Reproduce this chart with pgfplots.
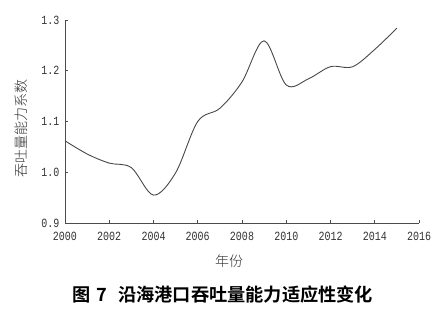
\documentclass[border=0pt]{standalone}
\usepackage{fontspec}
\setmainfont{Liberation Serif}
\newfontfamily\tickfont[FakeStretch=0.8]{Liberation Mono}
\newfontfamily\cjklight{Noto Sans CJK SC Light}
\newfontfamily\cjkbold{Noto Sans CJK SC Bold}
\usepackage{pgfplots}
\pgfplotsset{compat=1.18}
\definecolor{linec}{HTML}{484848}
\begin{document}
\begin{tikzpicture}
\path[use as bounding box] (-65pt,-92pt) rectangle (378pt,223pt);
\begin{axis}[
  at={(0,0)}, anchor=south west,
  scale only axis, width=354pt, height=203pt,
  axis lines=left,
  axis line style={-, draw=black!70, line width=0.8pt},
  xmin=2000, xmax=2016, ymin=0.9, ymax=1.3,
  xtick={2000,2002,...,2016},
  ytick={0.9,1.0,1.1,1.2,1.3},
  tick align=inside,
  major tick length=3pt,
  tick style={draw=black!70, line width=0.6pt},
  /pgf/number format/assume math mode=true,
  xticklabel style={font=\tickfont\fontsize{12.5}{12.5}\selectfont, text=black!80, yshift=-6pt},
  yticklabel style={font=\tickfont\fontsize{12.5}{12.5}\selectfont, text=black!80, xshift=-2pt},
  x tick label style={/pgf/number format/1000 sep={}},
  yticklabel={\pgfmathprintnumber[fixed,fixed zerofill,precision=1]{\tick}},
  clip=false,
]
\addplot[linec, line width=0.9pt, smooth, tension=0.55] coordinates {
(2000,1.062) (2001,1.036) (2002,1.018) (2003,1.009) (2004,0.955) (2005,0.999)
(2006,1.100) (2007,1.126) (2008,1.178) (2009,1.259) (2010,1.172) (2011,1.184)
(2012,1.208) (2013,1.208) (2014,1.242) (2015,1.284)
};
\end{axis}
\node[font=\cjklight\fontsize{14}{14}\selectfont, text=black!80] at (164pt,-38pt) {年份};
\node[font=\cjklight\fontsize{14}{14}\selectfont, text=black!80, rotate=90] at (-44pt,94pt) {吞吐量能力系数};
\node[font=\cjkbold\fontsize{18.2}{18.2}\selectfont] at (158pt,-72pt) {图\hspace{0.3em}7\hspace{0.6em}沿海港口吞吐量能力适应性变化};
\end{tikzpicture}
\end{document}
